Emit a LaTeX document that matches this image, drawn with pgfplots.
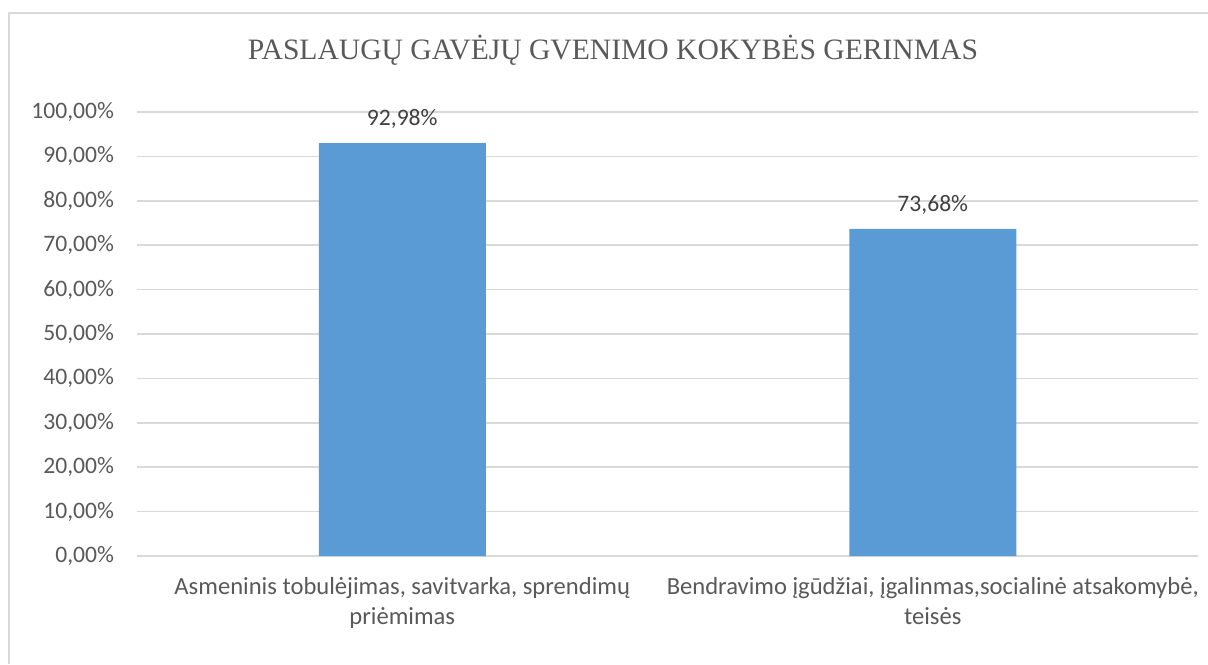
\documentclass[border=0pt]{standalone}
\usepackage{fontspec}
\setmainfont{Carlito}
\newfontfamily\titlefont{Liberation Serif}
\usepackage{xcolor}
\usepackage{pgfplots}
\pgfplotsset{compat=1.18}
\definecolor{barblue}{HTML}{5B9BD5}
\definecolor{gridgray}{HTML}{D9D9D9}
\definecolor{labelgray}{HTML}{595959}
\definecolor{valgray}{HTML}{404040}

\begin{document}
\begin{tikzpicture}
% page: 1208 x 664 px at 0.5pt per px
\useasboundingbox (0pt,0pt) rectangle (604pt,-332pt);
\draw[gridgray, line width=1pt] (4.5pt,-332pt) -- (4.5pt,-6.25pt) -- (605pt,-6.25pt);
\node[font=\titlefont\fontsize{14.8}{16}\selectfont, text=labelgray] at (306.5pt,-25pt)
  {PASLAUGŲ GAVĖJŲ GVENIMO KOKYBĖS GERINMAS};
\begin{axis}[
    at={(68.5pt,-278pt)}, anchor=south west,
    scale only axis,
    width=530.5pt, height=222pt,
    xmin=-0.5, xmax=1.5,
    ymin=0, ymax=100,
    ytick={0,10,...,100},
    xtick={0,1},
    xticklabels={{Asmeninis tobulėjimas, savitvarka, sprendimų\\priėmimas},
                 {Bendravimo įgūdžiai, įgalinmas,socialinė atsakomybė,\\teisės}},
    xticklabel style={align=center, font=\fontsize{12.3}{15}\selectfont, text=labelgray, yshift=-7pt},
    yticklabel={\pgfmathprintnumber[fixed,fixed zerofill,precision=2,use comma,assume math mode=true]{\tick}\%},
    yticklabel style={font=\fontsize{11.8}{14}\selectfont, text=labelgray, xshift=-8pt},
    axis line style={draw=none},
    major tick length=0pt,
    ymajorgrids,
    major grid style={draw=gridgray, line width=0.75pt},
    ybar,
    bar width=83.5pt,
    nodes near coords={\pgfmathprintnumber[fixed,fixed zerofill,precision=2,use comma,assume math mode=true]{\pgfplotspointmeta}\%},
    nodes near coords style={anchor=center, yshift=12pt, font=\fontsize{11.8}{14}\selectfont, text=valgray},
]
\addplot[fill=barblue, draw=none] coordinates {(0,92.98) (1,73.68)};
\end{axis}
\end{tikzpicture}
\end{document}
